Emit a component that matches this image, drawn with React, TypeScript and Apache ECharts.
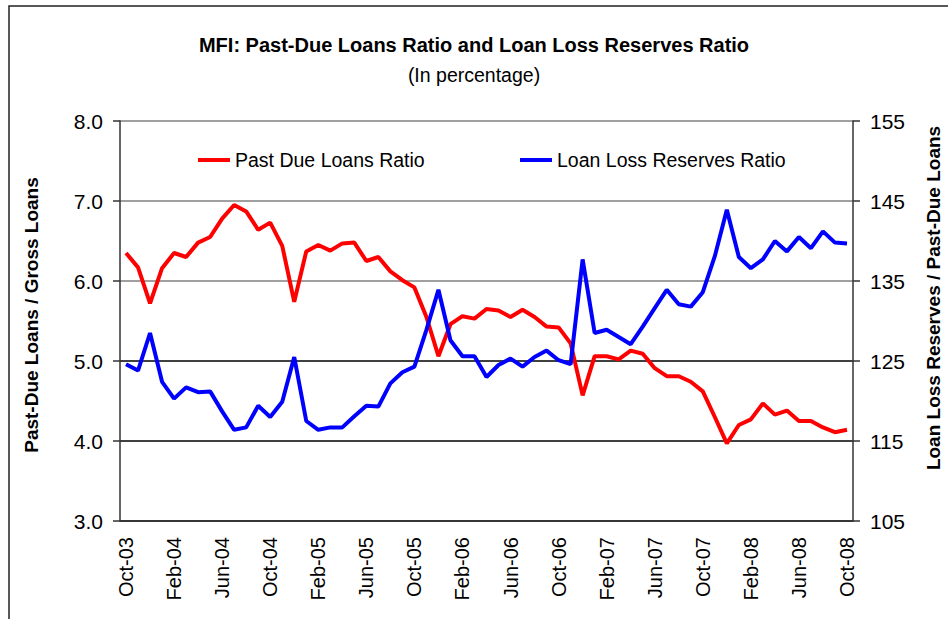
import React, { useEffect, useRef } from "react";
import * as echarts from "echarts";

const months: string[] = [
  "Oct-03","Nov-03","Dec-03","Jan-04","Feb-04","Mar-04","Apr-04","May-04","Jun-04","Jul-04","Aug-04","Sep-04",
  "Oct-04","Nov-04","Dec-04","Jan-05","Feb-05","Mar-05","Apr-05","May-05","Jun-05","Jul-05","Aug-05","Sep-05",
  "Oct-05","Nov-05","Dec-05","Jan-06","Feb-06","Mar-06","Apr-06","May-06","Jun-06","Jul-06","Aug-06","Sep-06",
  "Oct-06","Nov-06","Dec-06","Jan-07","Feb-07","Mar-07","Apr-07","May-07","Jun-07","Jul-07","Aug-07","Sep-07",
  "Oct-07","Nov-07","Dec-07","Jan-08","Feb-08","Mar-08","Apr-08","May-08","Jun-08","Jul-08","Aug-08","Sep-08",
  "Oct-08",
];

const pastDueRatio: number[] = [
  6.35, 6.17, 5.72, 6.16, 6.35, 6.30, 6.48, 6.55, 6.78, 6.95, 6.87, 6.64,
  6.73, 6.44, 5.74, 6.37, 6.45, 6.38, 6.47, 6.48, 6.25, 6.30, 6.12, 6.01,
  5.92, 5.55, 5.06, 5.46, 5.56, 5.53, 5.65, 5.63, 5.55, 5.64, 5.55, 5.43,
  5.42, 5.22, 4.57, 5.06, 5.06, 5.02, 5.13, 5.09, 4.91, 4.81, 4.81, 4.74,
  4.62, 4.30, 3.97, 4.20, 4.27, 4.47, 4.33, 4.38, 4.25, 4.25, 4.17, 4.11,
  4.14,
];

const reservesRatio: number[] = [
  124.6, 123.8, 128.5, 122.4, 120.3, 121.7, 121.1, 121.2, 118.7, 116.4, 116.7, 119.4,
  118.0, 119.9, 125.5, 117.5, 116.4, 116.7, 116.7, 118.1, 119.4, 119.3, 122.2, 123.6,
  124.3, 128.9, 133.9, 127.6, 125.6, 125.6, 123.0, 124.5, 125.3, 124.3, 125.5, 126.3,
  125.1, 124.6, 137.7, 128.5, 128.9, 128.0, 127.1, 129.3, 131.6, 133.9, 132.1, 131.8,
  133.6, 138.1, 143.9, 138.0, 136.6, 137.7, 140.0, 138.7, 140.5, 139.1, 141.2, 139.8,
  139.7,
];

const FONT = "'Liberation Sans Narrow', 'Arial Narrow', 'Liberation Sans', Arial, sans-serif";

export default function App() {
  const ref = useRef<HTMLDivElement>(null);
  useEffect(() => {
    if (!ref.current) return;
    const chart = echarts.init(ref.current, undefined, { renderer: "svg" });
    chart.setOption({
      animation: false,
      backgroundColor: "#ffffff",
      textStyle: { fontFamily: FONT },
      title: [
        {
          text: "MFI: Past-Due Loans Ratio and Loan Loss Reserves Ratio",
          left: "center",
          top: 30,
          textStyle: { fontFamily: FONT, fontSize: 20, fontWeight: "bold", color: "#000" },
        },
        {
          text: "(In percentage)",
          left: "center",
          top: 60,
          textStyle: { fontFamily: FONT, fontSize: 19.5, fontWeight: "normal", color: "#000" },
        },
      ],
      graphic: [
        {
          type: "rect",
          shape: { x: 9, y: 6, width: 960, height: 700 },
          style: { fill: "none", stroke: "#222", lineWidth: 1.5 },
          silent: true,
          z: -1,
        },
      ],
      legend: [
        {
          left: 193,
          top: 145,
          itemWidth: 32,
          itemHeight: 4,
          itemGap: 10,
          icon: "rect",
          data: ["Past Due Loans Ratio"],
          textStyle: { fontFamily: FONT, fontSize: 19.5, color: "#000" },
        },
        {
          left: 515,
          top: 145,
          itemWidth: 32,
          itemHeight: 4,
          itemGap: 10,
          icon: "rect",
          data: ["Loan Loss Reserves Ratio"],
          textStyle: { fontFamily: FONT, fontSize: 19.5, color: "#000" },
        },
      ],
      grid: { left: 120, right: 95, top: 121, bottom: 98, containLabel: false, outerBoundsMode: "none" },
      xAxis: {
        type: "category",
        data: months,
        boundaryGap: true,
        axisLine: { lineStyle: { color: "#333", width: 1.5 } },
        axisTick: { show: false },
        axisLabel: {
          interval: 3,
          rotate: 90,
          margin: 16,
          fontFamily: FONT,
          fontSize: 20,
          color: "#000",
        },
        splitLine: { show: false },
      },
      yAxis: [
        {
          type: "value",
          min: 3,
          max: 8,
          interval: 1,
          position: "left",
          name: "Past-Due Loans / Gross Loans",
          nameLocation: "middle",
          nameGap: 79,
          nameTextStyle: {
            fontFamily: FONT,
            fontSize: 19,
            fontWeight: "bold",
            color: "#000",
            padding: [0, 0, 0, 12],
          },
          axisLine: { show: true, lineStyle: { color: "#333", width: 1.5 } },
          axisTick: { show: true, length: 7, lineStyle: { color: "#333", width: 1.5 } },
          axisLabel: {
            formatter: (v: number) => v.toFixed(1),
            margin: 17,
            fontFamily: FONT,
            fontSize: 21,
            color: "#000",
          },
          splitLine: {
            show: true,
            lineStyle: {
              color: ["#000000", "#000000", "#000000", "#808080", "#808080", "#808080"],
              width: 1.5,
            },
          },
        },
        {
          type: "value",
          min: 105,
          max: 155,
          alignTicks: true,
          position: "right",
          name: "Loan Loss Reserves / Past-Due Loans",
          nameLocation: "middle",
          nameGap: 71,
          nameTextStyle: {
            fontFamily: FONT,
            fontSize: 19,
            fontWeight: "bold",
            color: "#000",
            padding: [0, 0, 0, 46],
          },
          axisLine: { show: true, lineStyle: { color: "#333", width: 1.5 } },
          axisTick: { show: true, length: 7, lineStyle: { color: "#333", width: 1.5 } },
          axisLabel: {
            margin: 17,
            fontFamily: FONT,
            fontSize: 21,
            color: "#000",
          },
          splitLine: { show: false },
        },
      ],
      series: [
        {
          name: "Past Due Loans Ratio",
          type: "line",
          yAxisIndex: 0,
          data: pastDueRatio,
          symbol: "none",
          itemStyle: { color: "#ff0000" },
          lineStyle: { color: "#ff0000", width: 4 },
        },
        {
          name: "Loan Loss Reserves Ratio",
          type: "line",
          yAxisIndex: 1,
          data: reservesRatio,
          symbol: "none",
          itemStyle: { color: "#0000ff" },
          lineStyle: { color: "#0000ff", width: 4 },
        },
      ],
    });
    return () => chart.dispose();
  }, []);
  return <div ref={ref} style={{ width: 948, height: 619, position: "fixed", left: 0, top: 0 }} />;
}
